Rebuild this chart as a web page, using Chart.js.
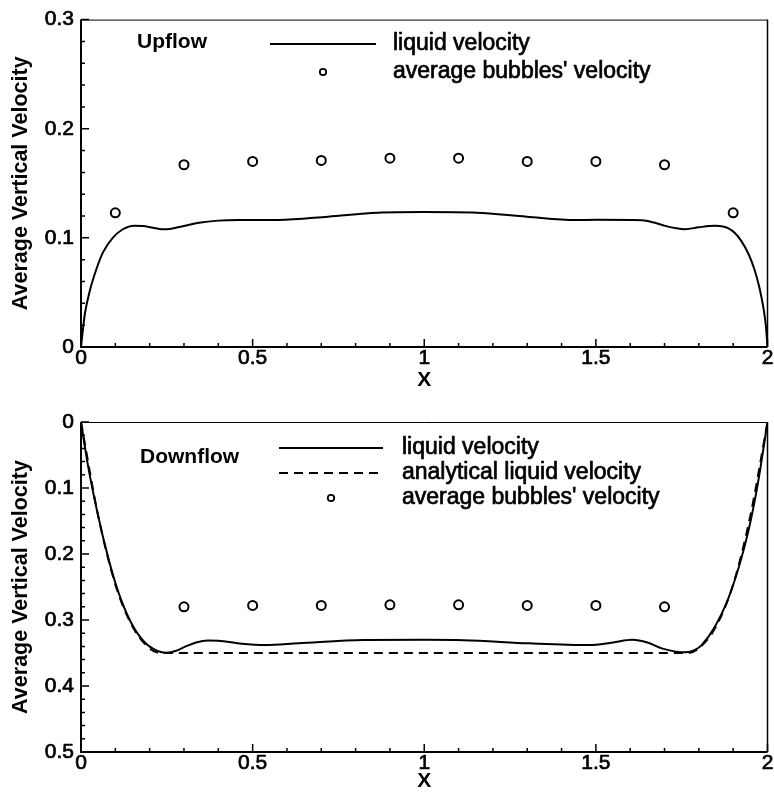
<!DOCTYPE html>
<html>
<head>
<meta charset="utf-8">
<script src="https://cdn.jsdelivr.net/npm/chart.js@4.4.1/dist/chart.umd.min.js"></script>
<style>
  html, body { margin: 0; padding: 0; background: #fff; }
  canvas { display: block; }
</style>
</head>
<body>
<canvas id="upChart" width="774" height="396"></canvas>
<canvas id="downChart" width="774" height="396"></canvas>
<script>
// axis ticks
const xTicks = [0, 0.5, 1, 1.5, 2];
const yTicksUp = [0, 0.1, 0.2, 0.3];
const yTicksDown = [0, 0.1, 0.2, 0.3, 0.4, 0.5];

// Upflow panel
const upX = [0, 0.006, 0.0116, 0.026, 0.045, 0.064, 0.093, 0.122, 0.155, 0.18, 0.205, 0.228, 0.25,
    0.276, 0.31, 0.344, 0.40, 0.46, 0.575, 0.72, 0.864, 1.0, 1.153, 1.298, 1.442, 1.5, 1.635, 1.67, 1.702,
    1.735, 1.76, 1.8, 1.847, 1.87, 1.885, 1.905, 1.924, 1.945, 1.962, 1.976, 1.988, 1.995, 2.0];
const upLiquid = [0, 0.017, 0.031, 0.052, 0.0715, 0.0867, 0.1003, 0.1079, 0.1112, 0.1108, 0.1095, 0.1082, 0.108,
    0.1092, 0.1115, 0.1139, 0.1158, 0.1163, 0.1164, 0.1194, 0.123, 0.1236, 0.123, 0.1194, 0.1164, 0.1165, 0.1162, 0.114, 0.111,
    0.1088, 0.108, 0.1097, 0.111, 0.1105, 0.109, 0.1045, 0.097, 0.085, 0.071, 0.055, 0.036, 0.02, 0];
const upBubbleX = [0.1, 0.3, 0.5, 0.7, 0.9, 1.1, 1.3, 1.5, 1.7, 1.9];
const upBubble = [0.123, 0.167, 0.170, 0.171, 0.173, 0.173, 0.170, 0.170, 0.167, 0.123];

// Downflow panel
const downX = [0, 0.02, 0.049, 0.078, 0.107, 0.145, 0.184, 0.223, 0.25, 0.275, 0.305, 0.335, 0.37, 0.40, 0.468,
    0.536, 0.633, 0.825, 1.0, 1.114, 1.306, 1.48, 1.55, 1.606, 1.65, 1.692, 1.76, 1.79, 1.808, 1.847, 1.895,
    1.943, 1.972, 2.0];
const downLiquid = [0, 0.065, 0.14, 0.203, 0.255, 0.303, 0.333, 0.347, 0.3495, 0.347, 0.340, 0.334, 0.331, 0.3313, 0.336,
    0.338, 0.3354, 0.3303, 0.330, 0.3305, 0.3354, 0.338, 0.334, 0.330, 0.334, 0.343, 0.349, 0.345, 0.338, 0.310, 0.2545,
    0.168, 0.093, 0];
const analyticX = [0, 0.05, 0.1, 0.15, 0.2, 0.23, 1.77, 1.8, 1.85, 1.9, 1.95, 2.0];
const analytic = [0, 0.142, 0.246, 0.31, 0.343, 0.35, 0.35, 0.343, 0.31, 0.246, 0.142, 0];
const downBubbleX = [0.3, 0.5, 0.7, 0.9, 1.1, 1.3, 1.5, 1.7];
const downBubble = [0.280, 0.278, 0.278, 0.277, 0.277, 0.278, 0.278, 0.280];

const FONT = '"Liberation Sans", Arial, Helvetica, sans-serif';
const zip = (xs, ys) => xs.map((x, i) => ({ x, y: ys[i] }));

const lineSet = (label, data, dash) => ({
    label,
    data,
    showLine: true,
    borderColor: '#000',
    borderWidth: 2,
    borderDash: dash || [],
    pointRadius: 0,
    cubicInterpolationMode: 'monotone',
    fill: false
});

const dotSet = (label, data) => ({
    label,
    data,
    showLine: false,
    pointStyle: 'circle',
    pointRadius: 4.5,
    pointBorderWidth: 2,
    pointBorderColor: '#000',
    pointBackgroundColor: '#fff'
});

// box, inward ticks, legend and panel name
const framePlugin = {
    id: 'frame',
    afterDatasetsDraw(chart, args, opts) {
        const { ctx, chartArea: a, scales } = chart;
        const xs = scales.x, ys = scales.y;
        ctx.save();
        ctx.strokeStyle = '#000';
        ctx.lineWidth = 1.5;
        ctx.beginPath();
        for (let i = 0; i <= 20; i++) {
            const px = xs.getPixelForValue(i / 10);
            const len = i % 5 === 0 ? 8 : 4;
            ctx.moveTo(px, a.bottom);
            ctx.lineTo(px, a.bottom - len);
        }
        const nY = Math.round((ys.max - ys.min) / 0.02);
        for (let i = 0; i <= nY; i++) {
            const py = ys.getPixelForValue(ys.min + i * 0.02);
            const len = i % 5 === 0 ? 8 : 4;
            ctx.moveTo(a.left, py);
            ctx.lineTo(a.left + len, py);
        }
        ctx.stroke();

        // frame
        ctx.lineWidth = 1;
        ctx.beginPath();
        ctx.moveTo(a.left, a.top + 0.5);
        ctx.lineTo(a.right, a.top + 0.5);
        ctx.stroke();
        ctx.lineWidth = 1.5;
        ctx.beginPath();
        ctx.moveTo(a.right, a.top);
        ctx.lineTo(a.right, a.bottom);
        ctx.stroke();
        ctx.lineWidth = 2;
        ctx.beginPath();
        ctx.moveTo(a.left, a.top);
        ctx.lineTo(a.left, a.bottom);
        ctx.lineTo(a.right, a.bottom);
        ctx.stroke();

        // panel name
        ctx.fillStyle = '#000';
        ctx.textBaseline = 'middle';
        ctx.textAlign = 'left';
        ctx.font = 'bold 21px ' + FONT;
        ctx.fillText(opts.name, opts.nameX, opts.nameY);

        // legend
        ctx.font = '23px ' + FONT;
        chart.data.datasets.forEach((ds, i) => {
            const y = opts.rowY + i * opts.rowGap;
            if (ds.showLine) {
                ctx.lineWidth = 2;
                ctx.setLineDash(ds.borderDash);
                ctx.beginPath();
                ctx.moveTo(opts.lineX0, y);
                ctx.lineTo(opts.lineX1, y);
                ctx.stroke();
                ctx.setLineDash([]);
            } else {
                ctx.lineWidth = 1.8;
                ctx.beginPath();
                ctx.arc((opts.lineX0 + opts.lineX1) / 2, y, 3.2, 0, Math.PI * 2);
                ctx.stroke();
            }
            ctx.fillText(ds.label, opts.textX, y);
            // thicken the glyphs a little, as in the source figure
            ctx.lineWidth = 0.7;
            ctx.strokeText(ds.label, opts.textX, y);
        });
        ctx.restore();
    }
};

function makeChart(id, datasets, yTicks, reverse, padTop, xHeight, xTitlePad, frame) {
    const ctx = document.getElementById(id).getContext('2d');
    return new Chart(ctx, {
        type: 'scatter',
        data: { datasets },
        plugins: [framePlugin],
        options: {
            responsive: false,
            animation: false,
            events: [],
            layout: { padding: { top: padTop, right: 1, left: 0, bottom: 0 } },
            plugins: {
                legend: { display: false },
                tooltip: { enabled: false },
                frame
            },
            scales: {
                x: {
                    type: 'linear',
                    min: 0,
                    max: 2,
                    afterBuildTicks: (s) => { s.ticks = xTicks.map(v => ({ value: v })); },
                    afterFit: (s) => { s.height = xHeight; },
                    grid: { display: false, drawTicks: false },
                    border: { display: false },
                    ticks: {
                        color: '#000',
                        padding: -1,
                        maxRotation: 0,
                        autoSkip: false,
                        textStrokeColor: '#000',
                        textStrokeWidth: 0.7,
                        font: { family: FONT, size: 21 },
                        callback: (v) => String(v)
                    },
                    title: {
                        display: true,
                        text: 'X',
                        color: '#000',
                        font: { family: FONT, size: 21, weight: 'bold', lineHeight: 1 },
                        padding: { top: 0, bottom: xTitlePad }
                    }
                },
                y: {
                    type: 'linear',
                    min: yTicks[0],
                    max: yTicks[yTicks.length - 1],
                    reverse,
                    afterBuildTicks: (s) => { s.ticks = yTicks.map(v => ({ value: v })); },
                    afterFit: (s) => { s.width = 81; },
                    grid: { display: false, drawTicks: false },
                    border: { display: false },
                    ticks: {
                        color: '#000',
                        padding: 7,
                        autoSkip: false,
                        textStrokeColor: '#000',
                        textStrokeWidth: 0.7,
                        font: { family: FONT, size: 21 },
                        callback: (v) => String(v)
                    },
                    title: {
                        display: true,
                        text: 'Average Vertical Velocity',
                        color: '#000',
                        font: { family: FONT, size: 21.5, weight: 'bold', lineHeight: 1 },
                        padding: { top: 10.5, bottom: 0 }
                    }
                }
            }
        }
    });
}

makeChart('upChart', [
    lineSet('liquid velocity', zip(upX, upLiquid)),
    dotSet("average bubbles' velocity", zip(upBubbleX, upBubble))
], yTicksUp, false, 17, 49, 5.5, {
    name: 'Upflow', nameX: 137, nameY: 42,
    lineX0: 270, lineX1: 376, textX: 393, rowY: 44, rowGap: 28
});

makeChart('downChart', [
    lineSet('liquid velocity', zip(downX, downLiquid)),
    lineSet('analytical liquid velocity', zip(analyticX, analytic), [9, 6]),
    dotSet("average bubbles' velocity", zip(downBubbleX, downBubble))
], yTicksDown, true, 26, 40, 0.5, {
    name: 'Downflow', nameX: 140, nameY: 61,
    lineX0: 279, lineX1: 383, textX: 402, rowY: 52, rowGap: 25
});
</script>
</body>
</html>
